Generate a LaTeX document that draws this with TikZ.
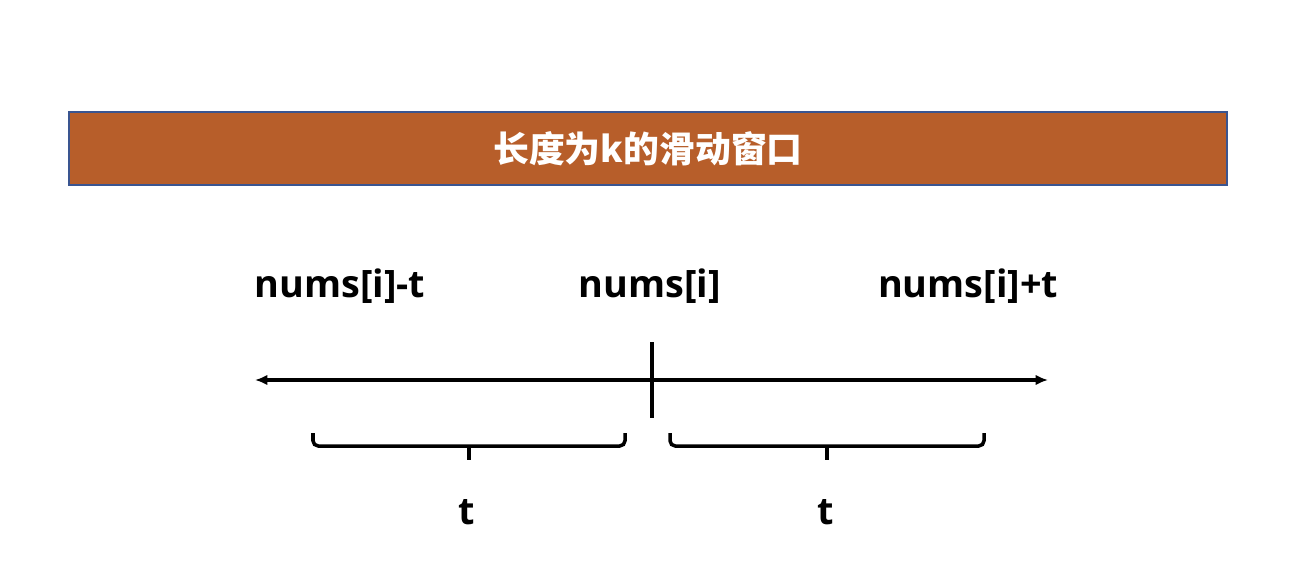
\documentclass[tikz,border=0pt]{standalone}
\usepackage{fontspec}
\usetikzlibrary{arrows.meta}
\setmainfont{Open Sans}
\newfontfamily\cjk{Noto Sans CJK SC}
\definecolor{bannerfill}{HTML}{B75E2A}
\definecolor{bannerline}{HTML}{3A5590}
\begin{document}
\begin{tikzpicture}[x=0.02cm, y=-0.02cm, font=\bfseries\fontsize{21.5}{26}\selectfont]
		\useasboundingbox (0,0) rectangle (1291,572);

		% Title Banner
		\node[draw=bannerline, line width=1.2pt, fill=bannerfill, minimum width=1158*0.02cm, minimum height=73*0.02cm, inner sep=0pt] (banner) at (648,148.5) {};
		\node[text=white, font=\cjk\bfseries\fontsize{20.4}{24}\selectfont] (title) at (banner.center) {长度为k的滑动窗口};

		% Number Line
		\coordinate (left) at (255,380);
		\coordinate (right) at (1048,380);
		\coordinate (mtop) at (652,342);
		\coordinate (mbot) at (652,418);
		\draw[line width=2.1pt, {Latex[length=7pt,width=6pt]}-{Latex[length=7pt,width=6pt]}] (left) -- (right);
		\draw[line width=2.1pt] (mtop) -- (mbot);

		% Point Labels
		\node (lo) at (340,286) {nums[i]-t};
		\node (mid) at (650,286) {nums[i]};
		\node (hi) at (968,286) {nums[i]+t};

		% Brackets
		\coordinate (b1l) at (313,433);
		\coordinate (b1r) at (625,433);
		\coordinate (b1m) at (469,446);
		\coordinate (b2l) at (670,433);
		\coordinate (b2r) at (984,433);
		\coordinate (b2m) at (827,446);
		\draw[line width=2pt, rounded corners=3pt] (b1l) |- (b1m) -| (b1r);
		\draw[line width=2pt] (b1m) -- ++(0,14);
		\draw[line width=2pt, rounded corners=3pt] (b2l) |- (b2m) -| (b2r);
		\draw[line width=2pt] (b2m) -- ++(0,14);

		% Bracket Labels
		\node (t1) at (467,512) {t};
		\node (t2) at (826,512) {t};
	\end{tikzpicture}
\end{document}
